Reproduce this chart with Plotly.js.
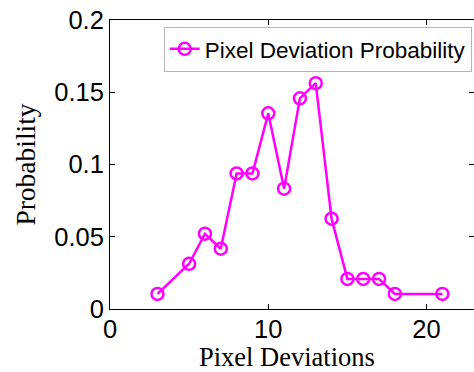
<!DOCTYPE html>
<html>
<head>
<meta charset="utf-8">
<script src="https://cdn.plot.ly/plotly-3.0.1.min.js"></script>
<style>html,body{margin:0;padding:0;background:#fff;}#chart{width:474px;height:372px;}</style>
</head>
<body>
<div id="chart"></div>
<script>
const deviations = [3, 5, 6, 7, 8, 9, 10, 11, 12, 13, 14, 15, 16, 17, 18, 21];
const probability = [0.0104, 0.0313, 0.0521, 0.0417, 0.0938, 0.0938, 0.1354, 0.0833, 0.1458, 0.1563, 0.0625, 0.0208, 0.0208, 0.0208, 0.0104, 0.0104];
const xTicks = [0, 10, 20];
const yTicks = [0, 0.05, 0.1, 0.15, 0.2];
const yTickLabels = ['0', '0.05', '0.1', '0.15', '0.2'];
const xTitle = 'Pixel Deviations';
const yTitle = 'Probability';

const trace = {
  x: deviations, y: probability, type: 'scatter', mode: 'lines+markers',
  name: 'Pixel Deviation Probability',
  line: {color: '#ff00ff', width: 2.5},
  marker: {symbol: 'circle-open', size: 12, color: '#ff00ff', line: {width: 2.5, color: '#ff00ff'}}
};
const layout = {
  width: 474, height: 372,
  margin: {l: 110, r: 0, t: 20, b: 63},
  paper_bgcolor: '#fff', plot_bgcolor: '#fff',
  showlegend: true,
  legend: {x: 0.9937, xanchor: 'right', y: 0.977, yanchor: 'top',
    bgcolor: '#fff', bordercolor: '#b4b4b4', borderwidth: 1,
    font: {family: 'Liberation Sans, Arial', size: 22.5, color: '#000'}},
  xaxis: {range: [0, 23], tickvals: xTicks, ticks: 'inside', ticklen: 5, tickcolor: '#000',
    showline: true, linecolor: '#000', linewidth: 1, mirror: 'ticks', showgrid: false, zeroline: false,
    ticklabelstandoff: -3,
    tickfont: {family: 'Liberation Sans, Arial', size: 25.5, color: '#000'}},
  yaxis: {range: [0, 0.2], tickvals: yTicks, ticktext: yTickLabels, ticks: 'inside', ticklen: 5, tickcolor: '#000',
    showline: true, linecolor: '#000', linewidth: 1, mirror: 'ticks', showgrid: false, zeroline: false,
    tickfont: {family: 'Liberation Sans, Arial', size: 25.5, color: '#000'},
    title: {text: yTitle, font: {family: 'Liberation Serif, Times New Roman', size: 27.5, color: '#000'}, standoff: 10}},
  annotations: [{text: xTitle, xref: 'paper', yref: 'paper', x: 0.485, xanchor: 'center', y: -0.1107, yanchor: 'top',
    borderpad: 0, showarrow: false, font: {family: 'Liberation Serif, Times New Roman', size: 26.5, color: '#000'}}]
};
Plotly.newPlot('chart', [trace], layout, {displayModeBar: false, staticPlot: true});
</script>
</body>
</html>
